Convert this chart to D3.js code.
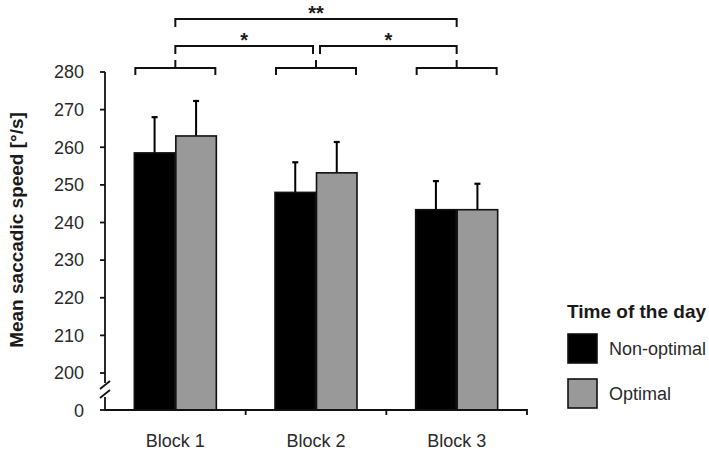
<!DOCTYPE html>
<html>
<head>
<meta charset="utf-8">
<script src="https://cdn.jsdelivr.net/npm/d3@7"></script>
<style>
  body { margin: 0; background: #fff; }
  svg { display: block; font-family: "Liberation Sans", Arial, sans-serif; }
  .tick-label { fill: #2a2a2a; font-size: 18px; }
  .bold { font-weight: bold; fill: #1a1a1a; }
</style>
</head>
<body>
<svg id="chart" width="709" height="458"></svg>
<script>
// data
const blocks   = ['Block 1', 'Block 2', 'Block 3'];
const groups   = ['Non-optimal', 'Optimal'];
const means    = [[258.5, 263], [248, 253.2], [243.4, 243.4]];   // [block][group]
const errTops  = [[268, 272.3], [256, 261.4], [251, 250.3]];
const yTicks   = [200, 210, 220, 230, 240, 250, 260, 270, 280];
const colors   = ['#000', '#999'];
// significance brackets between blocks (indices) + label
const sigPairs = [[0, 1, '*'], [1, 2, '*'], [0, 2, '**']];

const svg = d3.select('#chart');
const AX = 105, BASE = 410, RIGHT = 527;

const y = d3.scaleLinear().domain([200, 280]).range([373, 72]);
const x = d3.scaleBand().domain(blocks).range([AX, RIGHT]);
const xg = d3.scaleBand().domain(groups).range([0, 83]);
const off = (x.bandwidth() - 83) / 2;
const cx = b => x(b) + x.bandwidth() / 2;

// bars + one-sided error bars
const g = svg.append('g');
blocks.forEach((b, bi) => {
  groups.forEach((grp, gi) => {
    const x0 = x(b) + off + xg(grp);
    const top = y(means[bi][gi]);
    const mid = x0 + xg.bandwidth() / 2;
    const et = y(errTops[bi][gi]);
    g.append('line').attr('x1', mid).attr('x2', mid).attr('y1', top).attr('y2', et)
      .attr('stroke', '#000').attr('stroke-width', 2);
    g.append('line').attr('x1', mid - 3).attr('x2', mid + 3).attr('y1', et).attr('y2', et)
      .attr('stroke', '#000').attr('stroke-width', 2.2);
    g.append('rect').attr('x', x0 + 0.5).attr('y', top)
      .attr('width', xg.bandwidth() - 1).attr('height', BASE - top)
      .attr('fill', colors[gi]).attr('stroke', '#111').attr('stroke-width', 1.6);
  });
});

// y axis with break
const axisG = svg.append('g').attr('stroke', '#111').attr('stroke-width', 1.8).attr('fill', 'none');
axisG.append('path').attr('d', `M${AX},${y(280)}V383`);
axisG.append('path').attr('d', `M${AX},397V${BASE}H${RIGHT}V415`);
axisG.append('path').attr('d', `M${AX - 5},389L${AX + 5},381M${AX - 5},398L${AX + 5},390`);
yTicks.forEach(t => axisG.append('path').attr('d', `M${AX - 5},${y(t)}H${AX}`));
axisG.append('path').attr('d', `M${AX - 5},${BASE}H${AX}`);
blocks.slice(1).forEach(b => axisG.append('path').attr('d', `M${x(b)},${BASE}V415`));

svg.append('g').selectAll('text').data(yTicks.concat([0])).join('text')
  .attr('class', 'tick-label').attr('text-anchor', 'end')
  .attr('x', 84).attr('y', d => d === 0 ? BASE + 1 : y(d)).attr('dy', '0.35em')
  .text(d => d);

svg.append('g').selectAll('text').data(blocks).join('text')
  .attr('class', 'tick-label').attr('font-size', 19).attr('text-anchor', 'middle')
  .attr('x', cx).attr('y', 441).attr('dy', '0.35em').text(d => d);

svg.append('text').attr('class', 'bold').attr('font-size', 19)
  .attr('text-anchor', 'middle')
  .attr('transform', 'translate(23,230) rotate(-90)')
  .text('Mean saccadic speed [°/s]');

// significance brackets
const br = svg.append('g').attr('stroke', '#111').attr('stroke-width', 2).attr('fill', 'none');
blocks.forEach(b => {
  const c = cx(b);
  br.append('path').attr('d', `M${c - 40},75V68H${c + 40}V75M${c},68V60`);
});
const levels = [46, 46, 19];
sigPairs.forEach(([a, b, lab], i) => {
  let xa = cx(blocks[a]), xb = cx(blocks[b]);
  if (i === 0) xb -= 3;
  if (i === 1) xa += 4;
  const ly = levels[i];
  br.append('path').attr('d', `M${xa},${ly + 8}V${ly}H${xb}V${ly + 8}`);
  svg.append('text').attr('class', 'bold').attr('font-size', 20)
    .attr('text-anchor', 'middle').attr('x', (xa + xb) / 2).attr('y', ly + 1)
    .text(lab);
});

// legend
const lg = svg.append('g').attr('transform', 'translate(567,0)');
lg.append('text').attr('class', 'bold').attr('font-size', 19).attr('x', 0).attr('y', 318)
  .text('Time of the day');
groups.forEach((grp, i) => {
  const yy = 334 + i * 45;
  lg.append('rect').attr('x', 1).attr('y', yy).attr('width', 29).attr('height', 29)
    .attr('fill', colors[i]).attr('stroke', '#111').attr('stroke-width', 1.6);
  lg.append('text').attr('class', 'tick-label').attr('font-size', 17.5)
    .attr('x', 42).attr('y', yy + 15).attr('dy', '0.35em').text(grp);
});
</script>
</body>
</html>
